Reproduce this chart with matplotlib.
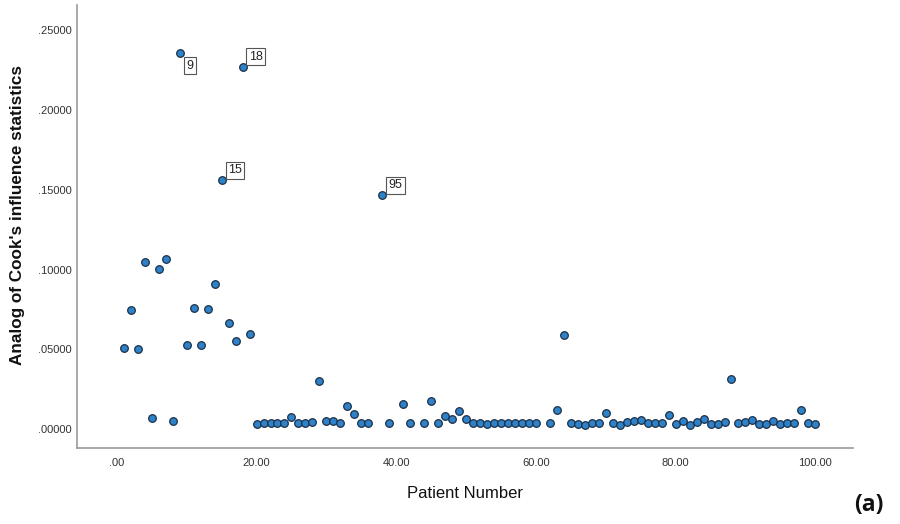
import matplotlib
matplotlib.use("Agg")
import matplotlib.pyplot as plt

# patient number and the Cook's distance analog for each case
patient = [1, 2, 3, 4, 5, 6, 7, 8, 9, 10,
           11, 12, 13, 14, 15, 16, 17, 18, 19, 20,
           21, 22, 23, 24, 25, 26, 27, 28, 29, 30,
           31, 32, 33, 34, 35, 36, 38, 39, 41, 42,
           44, 45, 46, 47, 48, 49, 50, 51, 52, 53,
           54, 55, 56, 57, 58, 59, 60, 62, 63, 64,
           65, 66, 67, 68, 69, 70, 71, 72, 73, 74,
           75, 76, 77, 78, 79, 80, 81, 82, 83, 84,
           85, 86, 87, 88, 89, 90, 91, 92, 93, 94,
           95, 96, 97, 98, 99, 100]
cook = [0.0505, 0.0744, 0.0500, 0.1046, 0.0071, 0.1004, 0.1065, 0.0050, 0.2360, 0.0528,
        0.0758, 0.0526, 0.0754, 0.0910, 0.1560, 0.0664, 0.0549, 0.2270, 0.0593, 0.0031,
        0.0036, 0.0037, 0.0035, 0.0037, 0.0076, 0.0035, 0.0035, 0.0044, 0.0299, 0.0048,
        0.0050, 0.0035, 0.0146, 0.0096, 0.0035, 0.0035, 0.1466, 0.0035, 0.0155, 0.0035,
        0.0035, 0.0173, 0.0035, 0.0081, 0.0061, 0.0113, 0.0061, 0.0035, 0.0035, 0.0031,
        0.0035, 0.0035, 0.0035, 0.0035, 0.0035, 0.0037, 0.0035, 0.0036, 0.0121, 0.0591,
        0.0035, 0.0033, 0.0025, 0.0035, 0.0035, 0.0102, 0.0035, 0.0023, 0.0046, 0.0050,
        0.0056, 0.0037, 0.0039, 0.0037, 0.0086, 0.0029, 0.0048, 0.0023, 0.0046, 0.0065,
        0.0033, 0.0029, 0.0046, 0.0313, 0.0037, 0.0044, 0.0054, 0.0033, 0.0033, 0.0048,
        0.0033, 0.0035, 0.0035, 0.0117, 0.0035, 0.0031]

# labelled cases: (patient number, case id shown in the box, box below the point?)
labelled = [(9, "9", True), (18, "18", False), (15, "15", False), (38, "95", False)]

yticks = [0.0, 0.05, 0.10, 0.15, 0.20, 0.25]
ytick_labels = [".00000", ".05000", ".10000", ".15000", ".20000", ".25000"]
xticks = [0, 20, 40, 60, 80, 100]
xtick_labels = [".00", "20.00", "40.00", "60.00", "80.00", "100.00"]

plt.rcParams["font.family"] = ["Liberation Sans", "DejaVu Sans"]

fig = plt.figure(figsize=(9, 5.24), dpi=100)
ax = fig.add_axes([0.0856, 0.145, 0.8622, 0.845])

ax.scatter(patient, cook, s=30, c="#2f82c8", edgecolors="#1b3048",
           linewidths=0.9, zorder=3)

for p, text, below in labelled:
    y = cook[patient.index(p)]
    if below:
        ax.annotate(text, (p, y), xytext=(4.6, -5.0), textcoords="offset points",
                    ha="left", va="top", fontsize=9, color="#222222",
                    bbox=dict(boxstyle="square,pad=0.2", fc="white", ec="#555555", lw=0.8))
    else:
        ax.annotate(text, (p, y), xytext=(4.6, 3.0), textcoords="offset points",
                    ha="left", va="bottom", fontsize=9, color="#222222",
                    bbox=dict(boxstyle="square,pad=0.2", fc="white", ec="#555555", lw=0.8))

ax.set_xlim(-5.7, 105.4)
ax.set_ylim(-0.0119, 0.2657)
ax.set_xticks(xticks)
ax.set_xticklabels(xtick_labels)
ax.set_yticks(yticks)
ax.set_yticklabels(ytick_labels)
ax.tick_params(axis="both", length=0, labelsize=8, labelcolor="#333333")
ax.tick_params(axis="y", pad=4)
ax.tick_params(axis="x", pad=7)

for side in ["top", "right"]:
    ax.spines[side].set_visible(False)
for side in ["left", "bottom"]:
    ax.spines[side].set_color("#999999")
    ax.spines[side].set_linewidth(1.2)

fig.text(0.020, 0.59, "Analog of Cook's influence statistics", rotation=90,
         ha="center", va="center", fontsize=12.3, fontweight="bold", color="#111111")
fig.text(0.517, 0.059, "Patient Number", ha="center", va="center",
         fontsize=12, color="#111111")
fig.text(0.965, 0.037, "(a)", ha="center", va="center", fontsize=16.5,
         fontweight="bold", family=["Open Sans", "DejaVu Sans"], color="#111111")

fig.savefig("out.png", dpi=100)
